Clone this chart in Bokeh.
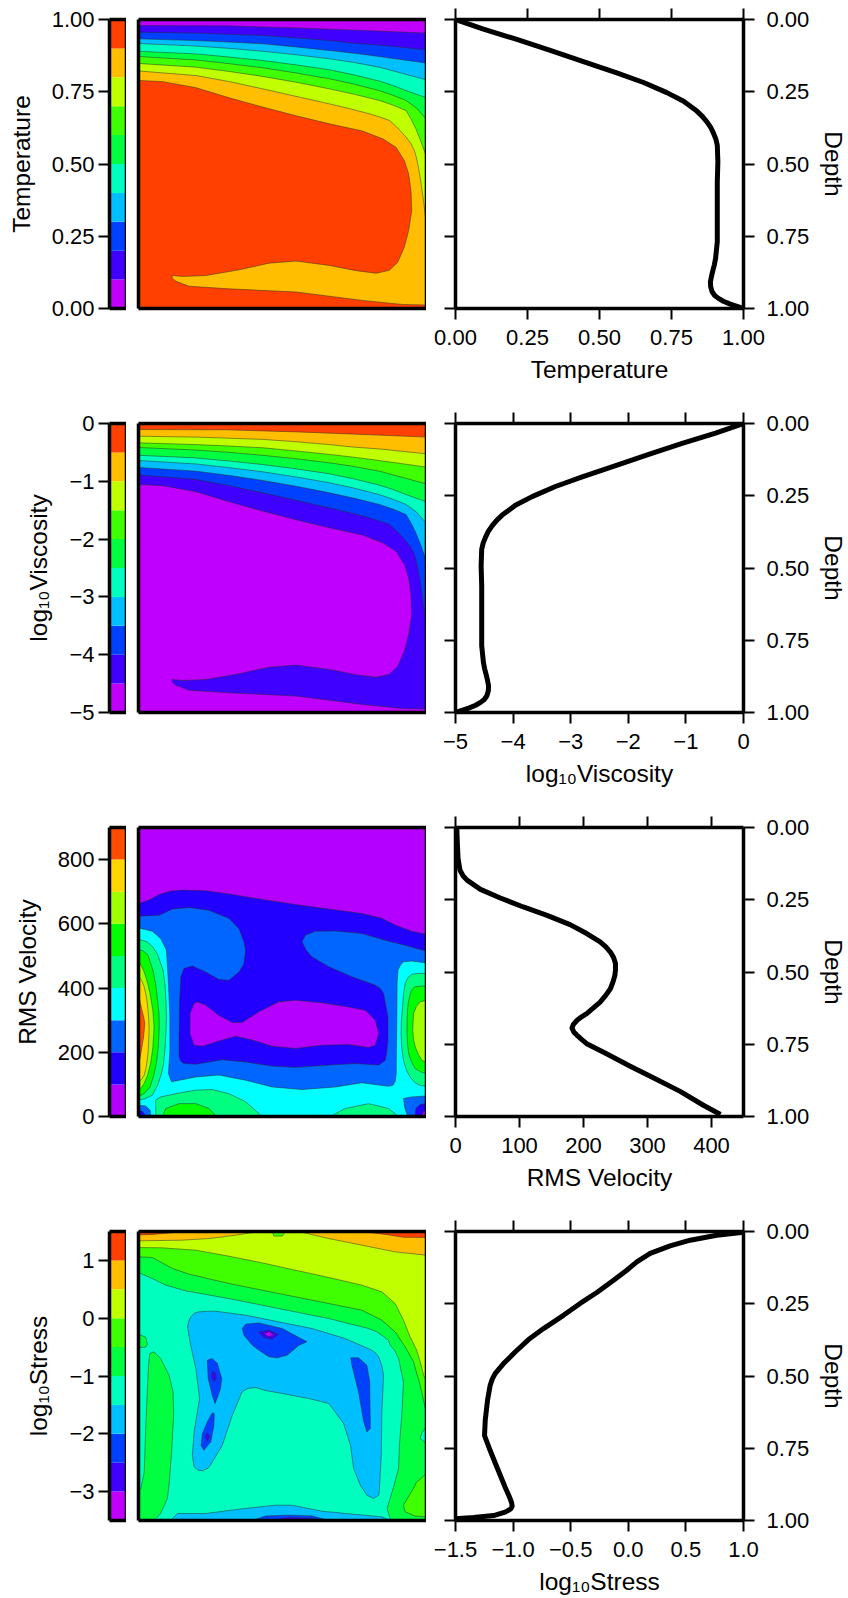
from bokeh.plotting import figure
from bokeh.layouts import column, row
from bokeh.models import FixedTicker, LinearAxis, Range1d
from bokeh.embed import file_html
from bokeh.resources import INLINE

FONT = "Liberation Sans"

# ---- colour bands (low to high)
BANDS_10 = ["#BF00FF", "#4000FF", "#0040FF", "#00BFFF", "#00FFBF",
            "#00FF40", "#40FF00", "#BFFF00", "#FFBF00", "#FF4000"]
BANDS_9 = ["#B300FF", "#2200FF", "#0066FF", "#00FFFF", "#00FF80",
           "#00FF00", "#A0FF00", "#FFD500", "#FF4D00"]

# ---- horizontal-mean profiles
DEPTH_T = [0, .033, .069, .107, .146, .185, .218, .253, .283, .317, .335, .354, .373, .394, .414, .435, .492,
           .562, .642, .769, .827, .848, .867, .888, .908, .925, .942, .955, .965, .975, .985, 1]
MEAN_T = [0, .097, .213, .329, .444, .56, .653, .734, .792, .838, .857, .873, .886, .896, .904, .909, .911,
          .909, .909, .909, .903, .899, .894, .889, .885, .886, .891, .9, .913, .93, .954, 1]
DEPTH_V = [0, .061, .107, .148, .168, .182, .214, .244, .275, .304, .336, .367, .396, .413, .431, .45, .471, .492,
           .512, .535, .558, .58, .604, .644, .655, .667, .682, .694, .708, .719, .733, .748, .783, .826, .866, .913, .962, .993]
MEAN_V = [2, 3, 4, 7, 12, 18, 39, 70, 106, 143, 179, 205, 226, 235, 242, 247, 250, 250,
          249, 246, 242, 235, 226, 205, 197, 190, 184, 182, 185, 190, 197, 205, 236, 273, 309, 351, 388, 414]
DEPTH_S = [.003, .013, .03, .05, .076, .105, .134, .169, .211, .249, .29, .336, .374, .417, .457,
           .492, .51, .532, .584, .654, .706, .758, .815, .885, .925, .94, .951, .96, .971, .983, .99, .994]
MEAN_S = [1.0, .768, .537, .363, .19, .074, -.013, -.128, -.273, -.418, -.563, -.736, -.866, -.982, -1.083,
          -1.156, -1.18, -1.199, -1.222, -1.242, -1.248, -1.199, -1.141, -1.069, -1.025, -1.012, -1.008, -1.02, -1.069, -1.17, -1.344, -1.5]

# ---- temperature isotherms: (x, depth); the viscosity field shares them
T_10 = [(0, .021), (.31, .022), (.55, .029), (.78, .038), (1, .047)]
T_20 = [(0, .044), (.2, .047), (.316, .051), (.431, .055), (.547, .063), (.663, .073), (.75, .082), (.836, .088), (1, .105)]
T_30 = [(0, .067), (.2, .073), (.316, .078), (.431, .084), (.547, .095), (.663, .107), (.75, .117), (.836, .128), (1, .151)]
T_40 = [(0, .083), (.2, .092), (.316, .100), (.431, .110), (.547, .122), (.663, .136), (.75, .149), (.836, .165), (1, .209)]
T_50 = [(0, .110), (.2, .119), (.316, .130), (.431, .142), (.547, .157), (.663, .174), (.75, .192), (.836, .213), (.883, .228),
        (.929, .246), (1, .271)]
T_60 = [(0, .128), (.2, .140), (.316, .153), (.431, .167), (.547, .185), (.663, .205), (.75, .224), (.836, .246), (.883, .262),
        (.929, .280), (.965, .306), (1, .346)]
T_70 = [(0, .152), (.2, .165), (.316, .180), (.431, .197), (.547, .217), (.663, .240), (.75, .259), (.836, .280), (.883, .296),
        (.929, .315), (.945, .342), (.963, .378), (.98, .42), (1, .476)]
T_80 = [(0, .178), (.2, .194), (.316, .215), (.431, .240), (.547, .266), (.663, .292), (.735, .309), (.8, .326), (.836, .337),
        (.871, .349), (.9, .375), (.929, .407), (.945, .428), (.958, .453), (.965, .478), (.972, .511), (.98, .56), (.99, .63), (1, .707)]
T_90 = [(0, .211), (.084, .215), (.2, .236), (.315, .271), (.431, .303), (.547, .333), (.663, .361), (.778, .386),
        (.848, .413), (.894, .442), (.923, .488), (.938, .534), (.946, .592), (.949, .661), (.938, .730), (.923, .788),
        (.9, .84), (.871, .868), (.825, .878), (.755, .869), (.663, .851), (.547, .836), (.454, .843), (.35, .866),
        (.234, .886), (.153, .889), (.116, .886), (.118, .896), (.13, .906), (.176, .923), (.315, .932), (.547, .943), (.778, .972),
        (.917, .986), (1, .988)]
T_LINES = [T_10, T_20, T_30, T_40, T_50, T_60, T_70, T_80, T_90]

# ---- RMS velocity regions: (x, velocity)
V_BELOW_300 = [(0, 587), (.048, 577), (.077, 554), (.097, 518), (.104, 414), (.109, 310), (.109, 206), (.104, 134), (.11, 118),
               (.115, 108), (.199, 123), (.279, 129), (.372, 113), (.464, 92), (.568, 84), (.684, 92), (.776, 105),
               (.868, 94), (.883, 97), (.891, 108), (.895, 134), (.895, 155), (.897, 310), (.898, 414), (.901, 456), (.91, 472),
               (.92, 482), (.949, 484), (1, 478), (1, 900), (0, 900)]
V_BELOW_200 = [(0, 624), (.072, 627), (.118, 646), (.176, 651), (.245, 642), (.314, 617), (.349, 585), (.366, 544),
               (.372, 518), (.366, 476), (.349, 450), (.314, 424), (.279, 427), (.233, 450), (.187, 469), (.158, 461),
               (.147, 435), (.143, 362), (.141, 258), (.141, 186), (.147, 172), (.158, 165), (.199, 163), (.291, 177), (.372, 170),
               (.464, 157), (.545, 153), (.661, 160), (.753, 165), (.834, 160), (.857, 175), (.862, 200), (.866, 238), (.866, 310),
               (.851, 383), (.84, 398), (.822, 409), (.741, 435), (.661, 466), (.603, 497), (.582, 518), (.568, 544), (.58, 565),
               (.614, 577), (.684, 578), (.776, 570), (.857, 549), (.926, 533), (1, 515), (1, 900), (0, 900)]
V_BELOW_100 = [(0, 663), (.037, 674), (.072, 691), (.112, 702), (.152, 705), (.233, 703), (.314, 693), (.43, 676),
               (.545, 660), (.661, 646), (.776, 632), (.845, 617), (.891, 596), (.949, 577), (1, 567), (1, 900), (0, 900)]
V_CORE_100 = [(.204, 357), (.233, 347), (.279, 315), (.326, 293), (.36, 293), (.418, 326), (.487, 357), (.545, 362),
              (.637, 354), (.73, 341), (.788, 331), (.822, 300), (.834, 258), (.822, 222), (.799, 215), (.73, 224),
              (.637, 222), (.545, 212), (.464, 219), (.395, 238), (.337, 250), (.291, 238), (.222, 219), (.193, 222),
              (.179, 258), (.179, 321), (.193, 352)]
V_LEFT_400 = [(0, 552), (.03, 544), (.05, 528), (.066, 505), (.085, 456), (.092, 410), (.095, 362), (.097, 310), (.095, 258),
              (.092, 210), (.087, 165), (.078, 128), (.066, 97), (.048, 66), (.025, 56), (0, 51)]
V_LEFT_500 = [(0, 520), (.018, 515), (.033, 502), (.05, 456), (.06, 410), (.066, 362), (.071, 320), (.072, 279), (.069, 220),
              (.062, 165), (.052, 125), (.04, 92), (.02, 72), (0, 61)]
V_LEFT_600 = [(0, 482), (.01, 470), (.02, 450), (.032, 415), (.04, 383), (.05, 330), (.054, 279), (.05, 215), (.042, 165),
              (.032, 130), (.02, 103), (.01, 90), (0, 82)]
V_LEFT_700 = [(0, 437), (.01, 425), (.02, 404), (.028, 370), (.032, 341), (.036, 300), (.037, 269), (.035, 225), (.032, 186),
              (.027, 155), (.02, 129), (.01, 115), (0, 108)]
V_LEFT_800 = [(0, 373), (.006, 355), (.012, 331), (.018, 310), (.022, 290), (.018, 250), (.012, 217), (.006, 185), (0, 160)]
V_RIGHT_400 = [(1, 445), (.975, 446), (.949, 443), (.935, 432), (.926, 414), (.92, 380), (.917, 341), (.913, 300), (.912, 258),
               (.914, 215), (.92, 175), (.93, 145), (.943, 123), (.96, 105), (.978, 97), (1, 94)]
V_RIGHT_500 = [(1, 406), (.98, 406), (.961, 404), (.95, 396), (.944, 383), (.937, 355), (.934, 331), (.932, 269), (.934, 230),
               (.938, 196), (.948, 170), (.961, 149), (.98, 139), (1, 134)]
V_RIGHT_600 = [(1, 362), (.978, 357), (.965, 343), (.955, 321), (.952, 269), (.955, 240), (.961, 217), (.972, 193), (.984, 175), (1, 167)]
V_FLOOR_400A = [(.06, 0), (.06, 51), (.077, 61), (.141, 73), (.199, 82), (.256, 84), (.314, 71), (.372, 46), (.43, 0)]
V_FLOOR_500A = [(.083, 0), (.095, 25), (.141, 40), (.199, 40), (.245, 25), (.27, 0)]
V_FLOOR_400B = [(.666, 0), (.718, 25), (.799, 40), (.868, 25), (.903, 0)]
V_CORNER_L300 = [(0, 35), (.025, 33), (.04, 20), (.043, 0), (0, 0)]
V_CORNER_L200 = [(0, 20), (.015, 15), (.025, 0), (0, 0)]
V_CORNER_L100 = [(0, 8), (.01, 0), (0, 0)]
V_CORNER_R300 = [(.92, 56), (.949, 61), (1, 64), (1, 0), (.935, 0), (.925, 25)]
V_CORNER_R200 = [(.961, 0), (.963, 25), (.978, 37), (1, 41), (1, 0)]
V_CORNER_R100 = [(.982, 0), (.99, 16), (1, 20), (1, 0)]

# ---- log10 stress regions: (x, log stress)
S_ABOVE_M10 = [(0, .79), (.048, .686), (.095, .571), (.164, .473), (.314, .34), (.487, .167), (.661, -.006), (.799, -.179), (.83, -.24),
               (.868, -.38), (.874, -.467), (.89, -.56), (.903, -.698), (.92, -1.101), (.915, -1.62), (.906, -2.197), (.903, -2.6),
               (.886, -2.918), (.863, -3.293), (.874, -3.466), (.88, -3.5), (1, -3.5), (1, 1.5), (0, 1.5)]
S_ABOVE_M05 = [(0, 1.061), (.048, 1.05), (.118, .859), (.176, .761), (.314, .6), (.487, .427), (.661, .254), (.776, .138),
               (.845, -.035), (.891, -.236), (.926, -.496), (.955, -.755), (.978, -1.159), (1, -1.649), (1, 1.5), (0, 1.5)]
S_ABOVE_00 = [(0, 1.222), (.083, 1.217), (.199, 1.176), (.314, 1.073), (.43, .957), (.545, .83), (.661, .704), (.776, .571),
              (.845, .456), (.891, .254), (.92, -.035), (.943, -.323), (.966, -.554), (.978, -.755), (.99, -.986),
              (1, -1.101), (1, 1.5), (0, 1.5)]
S_TOP_05A = [(0, 1.5), (0, 1.338), (.15, 1.35), (.245, 1.378), (.337, 1.436), (.418, 1.5)]
S_TOP_05B = [(.556, 1.5), (.661, 1.378), (.776, 1.263), (.891, 1.148), (1, 1.09), (1, 1.5)]
S_TOP_10A = [(0, 1.5), (0, 1.44), (.05, 1.45), (.12, 1.48), (.12, 1.5)]
S_TOP_10B = [(.776, 1.5), (.87, 1.44), (.92, 1.4), (1, 1.396), (1, 1.5)]
S_TOP_DIP = [(.464, 1.5), (.47, 1.42), (.499, 1.42), (.51, 1.5)]
S_RIGHT_DIP = [(1, -1.88), (.984, -1.98), (.978, -2.08), (1, -2.17)]
S_RIGHT_RISE = [(1, -2.687), (.961, -2.86), (.961, -2.889), (.92, -3.235), (.926, -3.35), (.961, -3.425), (1, -3.437)]
S_LEFT_RISE = [(.039, -.611), (.054, -.582), (.077, -.698), (.106, -.986), (.12, -1.274), (.122, -1.678), (.115, -2.312),
               (.106, -2.889), (.1, -3.12), (.077, -3.379), (.06, -3.466), (.055, -3.5), (0, -3.5), (0, -2.95), (.008, -2.95),
               (.02, -2.66), (.025, -1.909), (.031, -1.217), (.035, -.813)]
S_LEFT_SMALL = [(0, -.277), (.025, -.33), (.031, -.45), (.025, -.5), (0, -.51)]
S_BELOW_M15 = [(.17, -.15), (.174, -.06), (.181, .023), (.195, .09), (.21, .11), (.24, .12), (.268, .121), (.372, .052), (.487, -.063),
               (.603, -.179), (.718, -.352), (.811, -.554), (.825, -.61), (.834, -.669), (.845, -.82), (.851, -.986), (.845, -1.62),
               (.843, -2.37), (.836, -3.004), (.834, -3.062), (.816, -3.12), (.793, -3.062), (.77, -2.889), (.747, -2.6), (.736, -2.197),
               (.712, -1.822), (.661, -1.476), (.591, -1.39), (.499, -1.303), (.44, -1.25), (.406, -1.199), (.38, -1.215), (.36, -1.274),
               (.326, -1.678), (.291, -2.197), (.25, -2.543), (.24, -2.6), (.222, -2.641), (.207, -2.63), (.193, -2.572), (.187, -2.37),
               (.193, -1.966), (.212, -1.39), (.199, -.871), (.181, -.467)]
S_FLOOR_M15 = [(.112, -3.5), (.135, -3.379), (.233, -3.379), (.349, -3.304), (.476, -3.235), (.533, -3.235), (.637, -3.339),
               (.845, -3.437), (.874, -3.5)]
S_FLOOR_M20 = [(.395, -3.5), (.441, -3.42), (.522, -3.408), (.603, -3.42), (.661, -3.5)]
S_FLOOR_M25 = [(.46, -3.5), (.52, -3.45), (.6, -3.46), (.63, -3.5)]
S_BLOB1_M20 = [(.36, -.179), (.372, -.104), (.418, -.081), (.499, -.179), (.585, -.409), (.557, -.467), (.516, -.64),
               (.482, -.686), (.453, -.669), (.418, -.553), (.395, -.467), (.366, -.294)]
S_BLOB1_M25 = [(.418, -.236), (.453, -.208), (.485, -.277), (.464, -.363), (.435, -.334)]
S_BLOB1_M30 = [(.435, -.265), (.453, -.236), (.47, -.283), (.453, -.323)]
S_BLOB2_M20 = [(.239, -.727), (.256, -.698), (.274, -.784), (.289, -1.044), (.285, -1.217), (.266, -1.476), (.256, -1.332), (.242, -1.044)]
S_BLOB2_M25 = [(.256, -.928), (.266, -.94), (.27, -1.044), (.262, -1.101), (.254, -1.015)]
S_BLOB3_M20 = [(.256, -1.638), (.263, -1.649), (.262, -1.851), (.251, -2.139), (.227, -2.284), (.217, -2.197), (.222, -1.995), (.239, -1.793)]
S_BLOB3_M25 = [(.239, -1.984), (.247, -2.053), (.239, -2.128), (.231, -2.053)]
S_BLOB4_M20 = [(.737, -.686), (.764, -.686), (.793, -.813), (.803, -1.101), (.805, -1.909), (.793, -1.966), (.782, -1.793), (.764, -1.274), (.741, -.813)]

# ---- axes
Y_RANGE = [(0, 1), (-5, 0), (0, 900), (-3.5, 1.5)]
Y_EDGES = [[0, .1, .2, .3, .4, .5, .6, .7, .8, .9, 1],
           [-5, -4.5, -4, -3.5, -3, -2.5, -2, -1.5, -1, -.5, 0],
           [0, 100, 200, 300, 400, 500, 600, 700, 800, 900],
           [-3.5, -3, -2.5, -2, -1.5, -1, -.5, 0, .5, 1, 1.5]]
NAMES = ["Temperature", "log\u2081\u2080Viscosity", "RMS Velocity", "log\u2081\u2080Stress"]
Y_TICKS = [{0: "0.00", .25: "0.25", .5: "0.50", .75: "0.75", 1: "1.00"},
           {-5: "\u22125", -4: "\u22124", -3: "\u22123", -2: "\u22122", -1: "\u22121", 0: "0"},
           {0: "0", 200: "200", 400: "400", 600: "600", 800: "800"},
           {-3: "\u22123", -2: "\u22122", -1: "\u22121", 0: "0", 1: "1"}]
X_RANGE = [(0, 1), (-5, 0), (0, 450), (-1.5, 1)]
X_TICKS = [{0: "0.00", .25: "0.25", .5: "0.50", .75: "0.75", 1: "1.00"},
           {-5: "\u22125", -4: "\u22124", -3: "\u22123", -2: "\u22122", -1: "\u22121", 0: "0"},
           {0: "0", 100: "100", 200: "200", 300: "300", 400: "400"},
           {-1.5: "\u22121.5", -1: "\u22121.0", -.5: "\u22120.5", 0: "0.0", .5: "0.5", 1: "1.0"}]
DEPTH_TICKS = {0: "0.00", .25: "0.25", .5: "0.50", .75: "0.75", 1: "1.00"}
PROFILE_X = [MEAN_T, [-5 * t for t in MEAN_T], MEAN_V, MEAN_S]
PROFILE_D = [DEPTH_T, DEPTH_T, DEPTH_V, DEPTH_S]


def style_axis(ax, ticks, labels=True, label=None):
    ax.ticker = FixedTicker(ticks=list(ticks))
    ax.axis_line_color = "black"
    ax.axis_line_width = 3.5
    ax.major_tick_line_color = "black"
    ax.major_tick_line_width = 2
    ax.major_tick_out = 11
    ax.major_tick_in = 0
    ax.minor_tick_line_color = None
    if labels:
        ax.major_label_overrides = dict(ticks)
        ax.major_label_text_font = FONT
        ax.major_label_text_font_size = "22px"
        ax.major_label_text_color = "black"
    else:
        ax.major_label_text_font_size = "0px"
        ax.major_label_text_color = None
        ax.major_label_standoff = 0
        ax.axis_label_standoff = 0
    if label:
        ax.axis_label = label
        ax.axis_label_text_font = FONT
        ax.axis_label_text_font_size = "24.5px"
        ax.axis_label_text_font_style = "normal"
        ax.axis_label_text_color = "black"


def plain_edge(p, side):
    ax = LinearAxis()
    ax.ticker = FixedTicker(ticks=[])
    ax.axis_line_color = "black"
    ax.axis_line_width = 3.5
    ax.major_tick_line_color = None
    ax.minor_tick_line_color = None
    ax.major_tick_out = 0
    ax.major_tick_in = 0
    ax.major_label_text_font_size = "0px"
    ax.major_label_text_color = None
    ax.major_label_standoff = 0
    ax.axis_label_standoff = 0
    p.add_layout(ax, side)


def base_figure(fw, left, right, top, bottom, xr, yr):
    p = figure(output_backend="svg", toolbar_location=None, frame_width=fw, frame_height=289,
               x_range=Range1d(*xr), y_range=Range1d(*yr), x_axis_type=None, y_axis_type=None,
               min_border_left=left, min_border_right=right, min_border_top=top, min_border_bottom=bottom,
               background_fill_color="white", outline_line_color=None, margin=(0, 0, 0, 0))
    p.grid.visible = False
    return p


def draw_region(p, pts, colour, ymap=None):
    xs = [a for a, _ in pts]
    ys = [ymap(b) for _, b in pts] if ymap else [b for _, b in pts]
    p.patch(xs, ys, fill_color=colour, line_color="#2a2a2a", line_alpha=0.55, line_width=0.9)


def colourbar(i, bands, top, bottom):
    p = base_figure(17, 109, 0, top, bottom, (0, 1), Y_RANGE[i])
    edges = Y_EDGES[i]
    p.quad(left=0, right=1, bottom=edges[:-1], top=edges[1:], fill_color=bands, line_color=None)
    ax = LinearAxis()
    style_axis(ax, Y_TICKS[i], label=NAMES[i])
    ax.major_label_standoff = 4
    ax.axis_label_standoff = 14
    p.add_layout(ax, "left")
    for side in ("right", "above", "below"):
        plain_edge(p, side)
    return p


def contour_panel(i, bands, bg, layers, top, bottom, ymap=None):
    p = base_figure(288, 12, 0, top, bottom, (0, 1), Y_RANGE[i])
    ylo, yhi = Y_RANGE[i]
    p.quad(left=[0], right=[1], bottom=[ylo], top=[yhi], fill_color=bands[bg], line_color=None)
    for pts, idx in layers:
        draw_region(p, pts, bands[idx], ymap)
    for side in ("left", "right", "above", "below"):
        plain_edge(p, side)
    return p


def profile_panel(i, top, bottom):
    p = base_figure(288, 29, 102, top, bottom, X_RANGE[i], (1, 0))
    p.line(PROFILE_X[i], PROFILE_D[i], line_color="black", line_width=5, line_join="round")
    bot = LinearAxis()
    style_axis(bot, X_TICKS[i], label=NAMES[i])
    bot.major_label_standoff = 10
    bot.axis_label_standoff = 8
    p.add_layout(bot, "below")
    upper = LinearAxis()
    style_axis(upper, X_TICKS[i], labels=False)
    p.add_layout(upper, "above")
    lft = LinearAxis()
    style_axis(lft, DEPTH_TICKS, labels=False)
    p.add_layout(lft, "left")
    rgt = LinearAxis()
    style_axis(rgt, DEPTH_TICKS, label="Depth")
    rgt.major_label_standoff = 12
    rgt.axis_label_standoff = 8
    p.add_layout(rgt, "right")
    return p


T_CLOSE = [(1, 1), (0, 1)]
layers_t = [(line + T_CLOSE, k + 1) for k, line in enumerate(T_LINES)]
layers_visc = [(line + T_CLOSE, 8 - k) for k, line in enumerate(T_LINES)]
layers_v = [
    (V_BELOW_300, 2), (V_BELOW_200, 1), (V_BELOW_100, 0), (V_CORE_100, 0),
    (V_LEFT_400, 4), (V_LEFT_500, 5), (V_LEFT_600, 6), (V_LEFT_700, 7), (V_LEFT_800, 8),
    (V_RIGHT_400, 4), (V_RIGHT_500, 5), (V_RIGHT_600, 6),
    (V_FLOOR_400A, 4), (V_FLOOR_500A, 5), (V_FLOOR_400B, 4),
    (V_CORNER_L300, 2), (V_CORNER_L200, 1), (V_CORNER_L100, 0),
    (V_CORNER_R300, 2), (V_CORNER_R200, 1), (V_CORNER_R100, 0),
]
layers_s = [
    (S_ABOVE_M10, 5), (S_ABOVE_M05, 6), (S_ABOVE_00, 7),
    (S_TOP_05A, 8), (S_TOP_05B, 8), (S_TOP_10A, 9), (S_TOP_10B, 9), (S_TOP_DIP, 6),
    (S_RIGHT_DIP, 4), (S_RIGHT_RISE, 6), (S_LEFT_RISE, 5), (S_LEFT_SMALL, 5),
    (S_BELOW_M15, 3), (S_FLOOR_M15, 3), (S_FLOOR_M20, 2), (S_FLOOR_M25, 1),
    (S_BLOB1_M20, 2), (S_BLOB1_M25, 1), (S_BLOB1_M30, 0),
    (S_BLOB2_M20, 2), (S_BLOB2_M25, 1), (S_BLOB3_M20, 2), (S_BLOB3_M25, 1), (S_BLOB4_M20, 2),
]

rows = []
spec = [
    (BANDS_10, 0, layers_t, lambda d: 1 - d),
    (BANDS_10, 9, layers_visc, lambda d: -5 * d),
    (BANDS_9, 3, layers_v, None),
    (BANDS_10, 4, layers_s, None),
]
for i, (bands, bg, layers, ymap) in enumerate(spec):
    top = 19 if i == 0 else 11
    bottom = 104 if i < 3 else 70
    rows.append(row(colourbar(i, bands, top, bottom),
                    contour_panel(i, bands, bg, layers, top, bottom, ymap),
                    profile_panel(i, top, bottom), spacing=0))

page = column(*rows, spacing=0)
open("out.html", "w").write(file_html(page, INLINE))
